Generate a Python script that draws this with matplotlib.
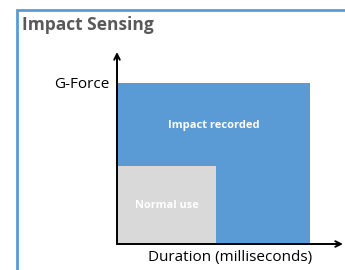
import matplotlib
matplotlib.use("Agg")
import matplotlib.pyplot as plt
from matplotlib.patches import Rectangle

# Data
categories = ["Impact recorded", "Normal use"]
durations = [1.95, 1.0]      # relative duration extent
g_forces = [2.06, 1.0]       # relative g-force extent
colors = ["#5B9BD5", "#D9D9D9"]
x_label = "Duration (milliseconds)"
y_label = "G-Force"
title = "Impact Sensing"

FONT = "Open Sans"
W, H = 345, 270
fig = plt.figure(figsize=(W / 100, H / 100), dpi=100)
fig.patch.set_facecolor("white")

# outer frame
frame = Rectangle((17 / W, -0.2), 1.2, 1 - 10 / H + 0.2, transform=fig.transFigure,
                  fill=False, edgecolor="#5B9BD5", linewidth=2.0)
fig.patches.append(frame)

fig.text(22 / W, 1 - 25 / H, title, fontsize=12.5, fontweight="bold",
         color="#595959", family=FONT, va="center", ha="left")

x0, y0 = 117, 244
ax = fig.add_axes([x0 / W, (H - y0) / H, (343 - x0) / W, (y0 - 52) / H])
xmax = (343 - x0) / 99
ymax = (y0 - 52) / 78
ax.set_xlim(0, xmax)
ax.set_ylim(0, ymax)
ax.axis("off")

for cat, d, g, c in zip(categories, durations, g_forces, colors):
    ax.bar(0, g, width=d, align="edge", color=c, edgecolor="none", zorder=1)

ax.text(durations[0] / 2, g_forces[0] * 0.74, categories[0], color="white",
        fontsize=8, fontweight="bold", family=FONT, ha="center", va="center")
ax.text(durations[1] / 2, g_forces[1] * 0.5, categories[1], color="white",
        fontsize=7.9, fontweight="bold", family=FONT, ha="center", va="center")

ax.annotate("", xy=(1, 0), xytext=(0, 0), xycoords="axes fraction",
            arrowprops=dict(arrowstyle="->", lw=1.4, color="black",
                            shrinkA=0, shrinkB=0), zorder=3)
ax.annotate("", xy=(0, 1), xytext=(0, 0), xycoords="axes fraction",
            arrowprops=dict(arrowstyle="->", lw=1.4, color="black",
                            shrinkA=0, shrinkB=0), zorder=3)

fig.text(109 / W, 1 - 84 / H, y_label, fontsize=11, family=FONT,
         ha="right", va="center", color="black")
fig.text(230 / W, 1 - 258 / H, x_label, fontsize=11, family=FONT,
         ha="center", va="center", color="black")

fig.savefig("out.png", dpi=100)
